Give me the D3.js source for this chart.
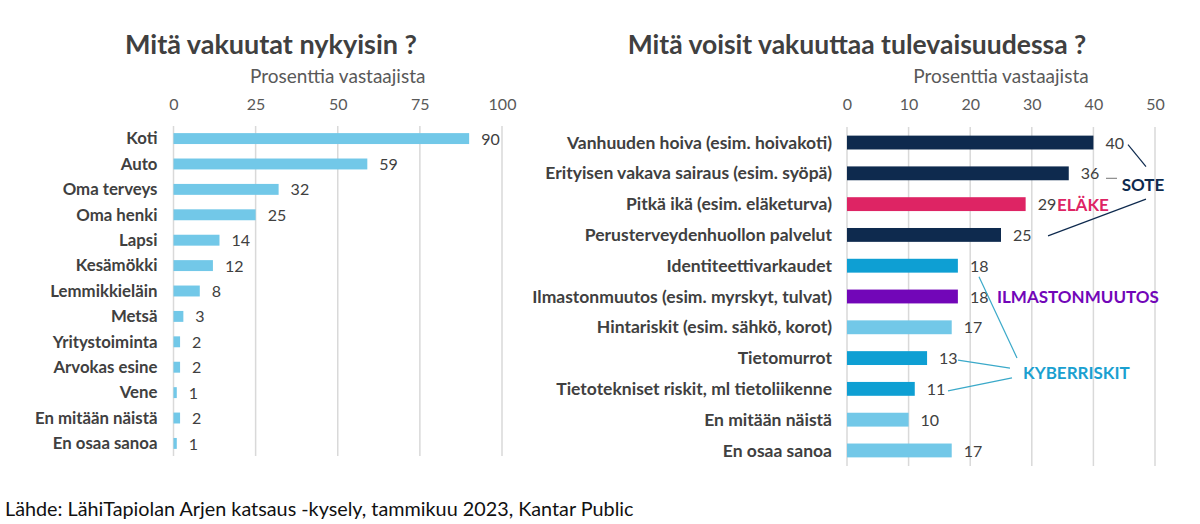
<!DOCTYPE html>
<html><head><meta charset="utf-8">
<script src="https://cdn.jsdelivr.net/npm/d3@7"></script>
<style>body{margin:0;background:#fff}svg{display:block}text{font-family:Lato,"Open Sans",sans-serif}</style>
</head><body>
<svg id="c" width="1200" height="524"></svg>
<script>
// LEFT chart data
const leftCategories = ["Koti","Auto","Oma terveys","Oma henki","Lapsi","Kesämökki","Lemmikkieläin","Metsä","Yritystoiminta","Arvokas esine","Vene","En mitään näistä","En osaa sanoa"];
const leftValues = [90,59,32,25,14,12,8,3,2,2,1,2,1];
const leftTicks = [0,25,50,75,100];
// RIGHT chart data
const rightCategories = ["Vanhuuden hoiva (esim. hoivakoti)","Erityisen vakava sairaus (esim. syöpä)","Pitkä ikä (esim. eläketurva)","Perusterveydenhuollon palvelut","Identiteettivarkaudet","Ilmastonmuutos (esim. myrskyt, tulvat)","Hintariskit (esim. sähkö, korot)","Tietomurrot","Tietotekniset riskit, ml tietoliikenne","En mitään näistä","En osaa sanoa"];
const rightValues = [40,36,29,25,18,18,17,13,11,10,17];
const rightGroups = ["sote","sote","elake","sote","kyber","ilmasto","muu","kyber","kyber","muu","muu"];
const rightTicks = [0,10,20,30,40,50];
const titles = ["Mitä vakuutat nykyisin ?","Mitä voisit vakuuttaa tulevaisuudessa ?"];
const axisTitle = "Prosenttia vastaajista";
const source = "Lähde: LähiTapiolan Arjen katsaus -kysely, tammikuu 2023, Kantar Public";

const colors = {sote:"#0E2A4E", elake:"#DE2464", kyber:"#0E9FD3", ilmasto:"#7206B8", muu:"#72C8E8"};
const svg = d3.select("#c");
const textGray = "#404040";

function drawChart(opt){
  const g = svg.append("g");
  const x = d3.scaleLinear().domain(opt.domain).range([opt.x0, opt.x1]);
  const y = d3.scaleBand().domain(opt.cats).range([opt.y0, opt.y1]).paddingInner(opt.padIn).paddingOuter(opt.padOut);
  g.selectAll("line.grid").data(opt.ticks).join("line")
    .attr("x1", d=>x(d)).attr("x2", d=>x(d)).attr("y1", opt.y0).attr("y2", opt.y1)
    .attr("stroke","#D9D9D9").attr("stroke-width",1.5);
  const ax = g.append("g").attr("transform",`translate(0,${opt.tickY})`)
    .call(d3.axisTop(x).tickValues(opt.ticks).tickSize(0).tickPadding(0));
  ax.select(".domain").remove();
  ax.selectAll("text").attr("font-size",16).attr("fill","#595959").attr("font-family","Lato,sans-serif");
  g.append("text").attr("x",opt.titleX).attr("y",54).attr("text-anchor","middle")
    .attr("font-size",opt.titleSize).attr("font-weight",700).attr("fill",textGray).text(opt.title);
  g.append("text").attr("x",(opt.x0+opt.x1)/2).attr("y",83).attr("text-anchor","middle")
    .attr("font-size",19).attr("fill","#595959").text(axisTitle);
  g.selectAll("rect.bar").data(opt.cats).join("rect")
    .attr("x", x(0)).attr("y", d=>y(d)).attr("width",(d,i)=>x(opt.vals[i])-x(0)).attr("height",y.bandwidth())
    .attr("fill",(d,i)=>opt.color(i));
  g.selectAll("text.cat").data(opt.cats).join("text")
    .attr("x", x(0)-opt.catGap).attr("y", d=>y(d)+y.bandwidth()/2).attr("dy","0.35em")
    .attr("text-anchor","end").attr("font-size",opt.catSize).attr("font-weight",700).attr("fill",textGray).text(d=>d);
  g.selectAll("text.val").data(opt.cats).join("text")
    .attr("x",(d,i)=>x(opt.vals[i])+opt.valOff).attr("y", d=>y(d)+y.bandwidth()/2).attr("dy","0.38em")
    .attr("font-size",16).attr("fill",textGray).text((d,i)=>opt.vals[i]);
  return {x,y};
}

drawChart({domain:[0,100], x0:173.5, x1:502, y0:126, y1:456, cats:leftCategories, vals:leftValues,
  ticks:leftTicks, tickY:110, padIn:0.57, padOut:0.28, title:titles[0], titleX:271, titleSize:27, catSize:16.8, catGap:16, valOff:12,
  color:()=>colors.muu});
const R = drawChart({domain:[0,50], x0:847, x1:1155, y0:127, y1:466, cats:rightCategories, vals:rightValues,
  ticks:rightTicks, tickY:110, padIn:0.55, padOut:0.28, title:titles[1], titleX:857, titleSize:26.5, catSize:17.5, catGap:15, valOff:12,
  color:i=>colors[rightGroups[i]]});

// annotations (right chart)
const ann = svg.append("g");
const ry = R.y;
const cy = i => ry(rightCategories[i]) + ry.bandwidth()/2;
function line(x1,y1,x2,y2,c){ann.append("line").attr("x1",x1).attr("y1",y1).attr("x2",x2).attr("y2",y2).attr("stroke",c).attr("stroke-width",1.2);}
ann.append("text").attr("x",1143).attr("y",cy(1)+12).attr("dy","0.35em").attr("text-anchor","middle")
  .attr("font-size",17).attr("font-weight",700).attr("fill",colors.sote).text("SOTE");
line(1128,cy(0)+2,1146,cy(0)+24,"#0E2A4E");
line(1106,cy(1)+5,1117,cy(1)+5,"#8a8a8a");
line(1146,cy(2)-5,1048,cy(3)+1,"#0E2A4E");
ann.append("text").attr("x",1057).attr("y",cy(2)+1).attr("dy","0.35em")
  .attr("font-size",17).attr("font-weight",700).attr("fill",colors.elake).text("ELÄKE");
ann.append("text").attr("x",997).attr("y",cy(5)+1).attr("dy","0.35em")
  .attr("font-size",17).attr("font-weight",700).attr("fill",colors.ilmasto).text("ILMASTONMUUTOS");
ann.append("text").attr("x",1023).attr("y",(cy(7)+cy(8))/2).attr("dy","0.35em")
  .attr("font-size",17).attr("font-weight",700).attr("fill","#1AA0D0").text("KYBERRISKIT");
line(979,cy(4)+11,1017,cy(7),"#3AA9C9");
line(958,cy(7)+2,1010,cy(7)+10,"#3AA9C9");
line(948,cy(8)+2,1012,cy(8)-11,"#3AA9C9");

svg.append("text").attr("x",5).attr("y",516).attr("font-size",19.8).attr("fill","#111").text(source);
</script>
</body></html>
